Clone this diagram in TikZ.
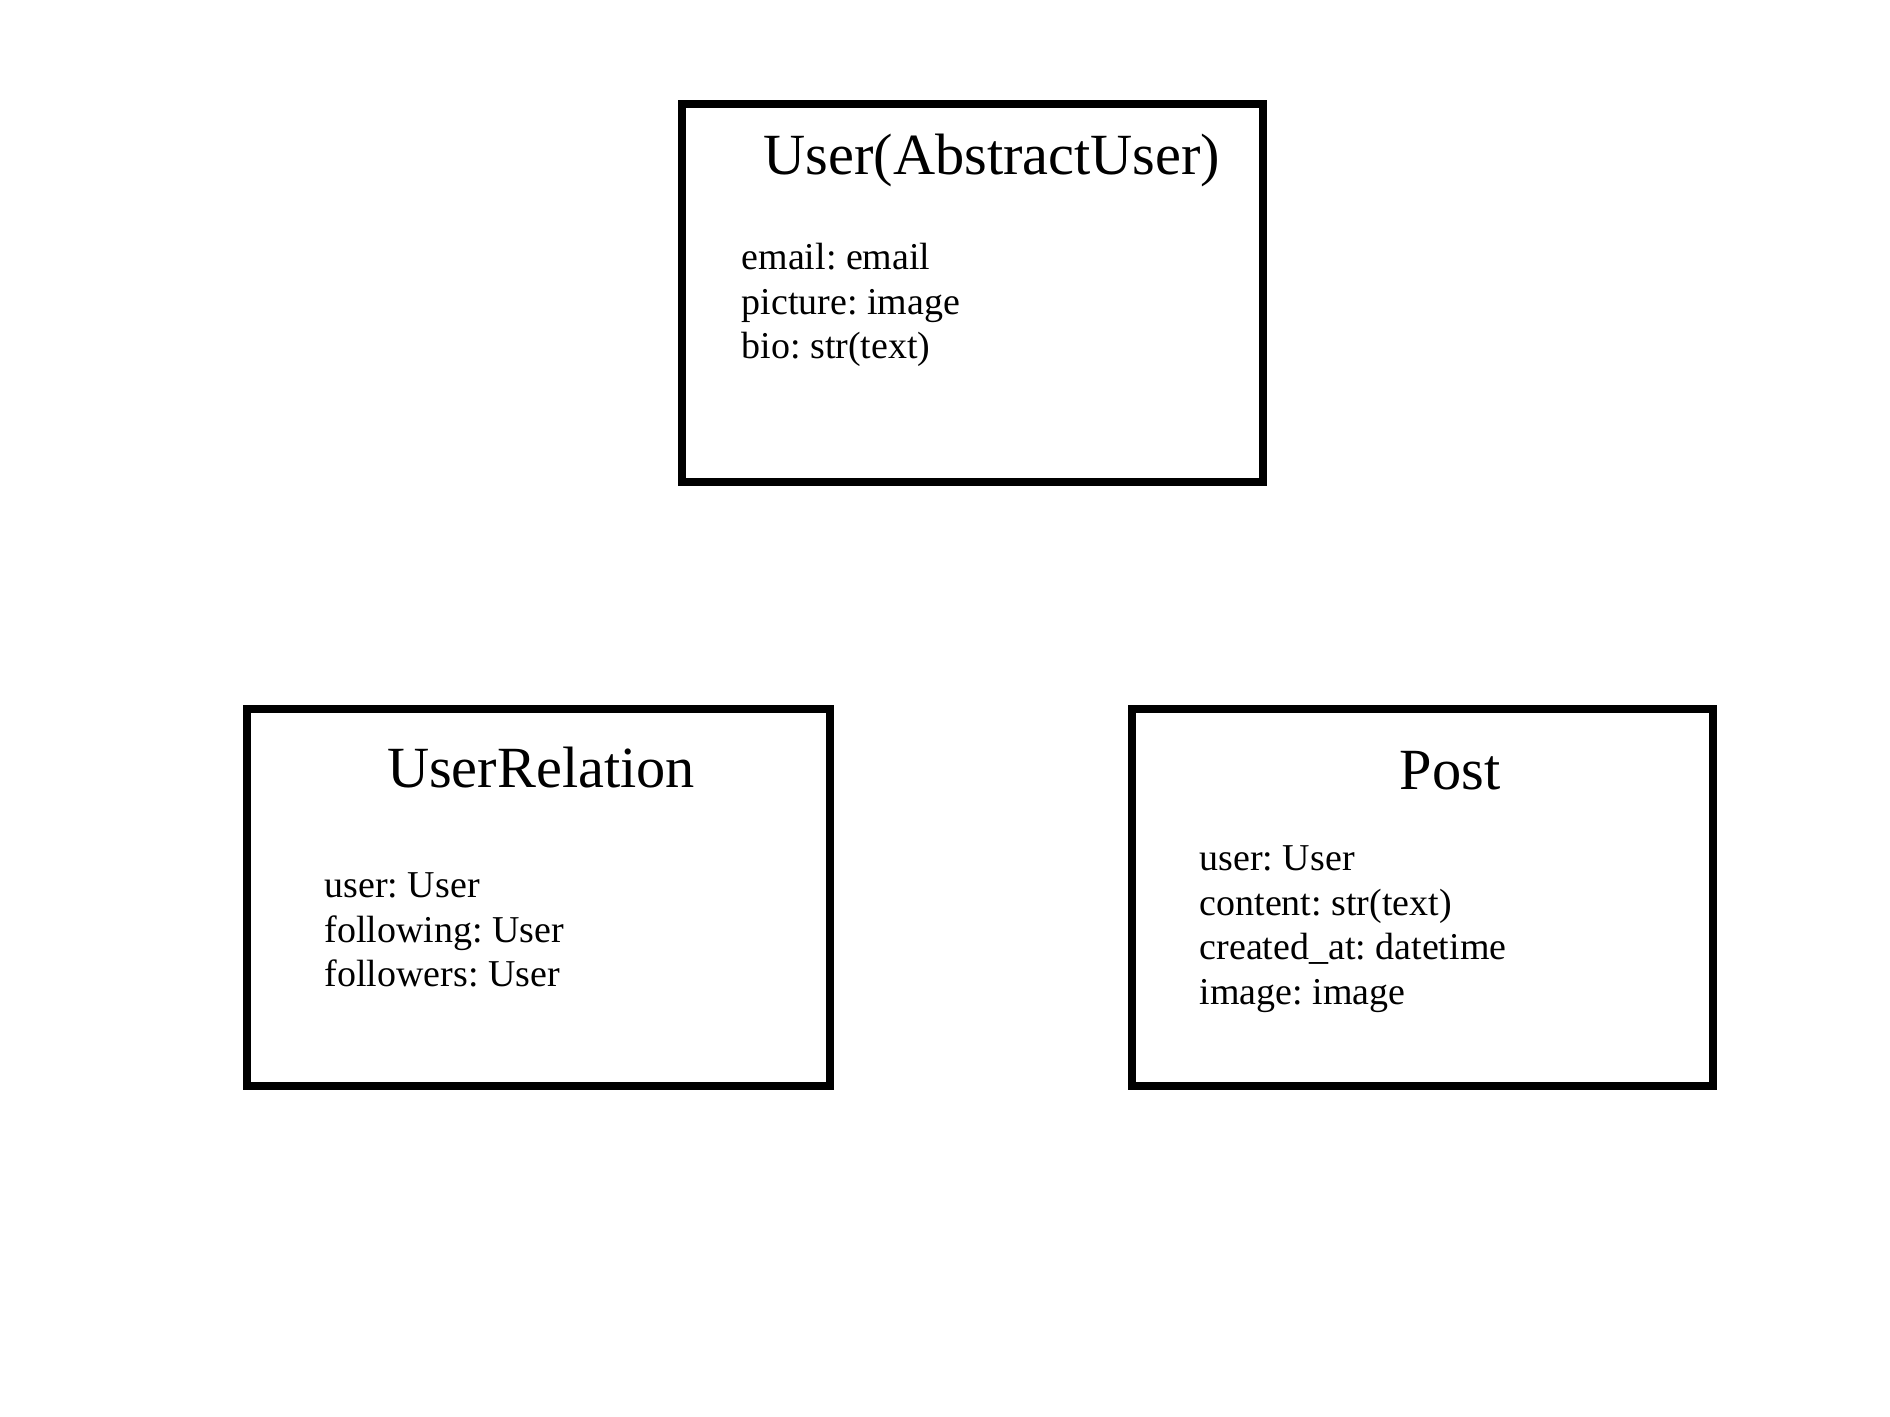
\documentclass[tikz,border=0pt]{standalone}
\usepackage{fontspec}
\setmainfont{Liberation Serif}
\frenchspacing
\usepackage{tikz}

\tikzset{
  classbox/.style={draw, line width=2.4pt},
  classname/.style={font=\fontsize{16.6}{20}\selectfont, anchor=base, inner sep=0pt},
  attr/.style={font=\fontsize{10.8}{13}\selectfont, anchor=base west, inner sep=0pt}
}

\begin{document}
\begin{tikzpicture}
    \useasboundingbox (0,0) rectangle (18.9,14.17);
    % Caixas
    \draw[classbox] (6.82,9.35) rectangle (12.63,13.13);
    \draw[classbox] (2.47,3.31) rectangle (8.30,7.08);
    \draw[classbox] (11.32,3.31) rectangle (17.13,7.08);
    % Nomes
    \node[classname] (user) at (9.92,12.42) {User(AbstractUser)};
    \node[classname] (rel) at (5.41,6.29) {UserRelation};
    \node[classname] (post) at (14.50,6.27) {Post};
    % Atributos
    \foreach \t [count=\i] in {email: email, picture: image, bio: str(text)}
        \node[attr] (user\i) at (7.41,{11.47-0.445*(\i-1)}) {\t};
    \foreach \t [count=\i] in {user: User, following: User, followers: User}
        \node[attr] (rel\i) at (3.24,{5.19-0.445*(\i-1)}) {\t};
    \foreach \t [count=\i] in {user: User, content: str(text), created\_at: datetime, image: image}
        \node[attr] (post\i) at (11.99,{5.46-0.445*(\i-1)}) {\t};
\end{tikzpicture}
\end{document}
